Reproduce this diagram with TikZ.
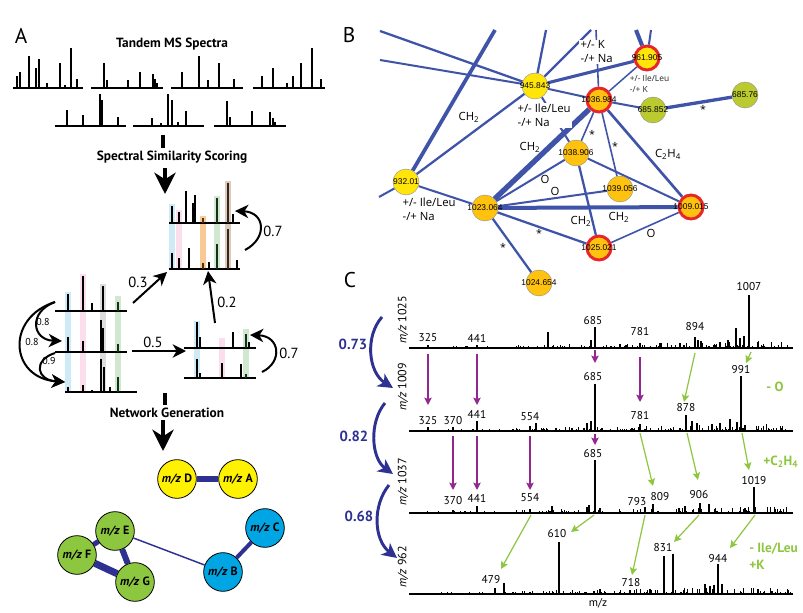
\documentclass[tikz,border=0pt]{standalone}
\usepackage{fontspec}
\setmainfont{PT Sans}
\newfontfamily\bfnt{Open Sans}
\newfontfamily\nfnt{Liberation Sans}
\usetikzlibrary{arrows.meta}
\pgfdeclarelayer{bg}
\pgfsetlayers{bg,main}
\definecolor{navy}{HTML}{2E3192}
\definecolor{bline}{HTML}{3F54A8}
\definecolor{nyellow}{HTML}{FFF200}
\definecolor{ngreen}{HTML}{8DC63F}
\definecolor{nblue}{HTML}{00A5E3}
\definecolor{byellow}{HTML}{FFE50A}
\definecolor{borange}{HTML}{FFC20E}
\definecolor{blime}{HTML}{BBCB2F}
\definecolor{bredc}{HTML}{E8262A}
\definecolor{cpurple}{HTML}{92278F}
\definecolor{cgreen}{HTML}{8DC63F}
\definecolor{pblue}{HTML}{CDEAF6}
\definecolor{ppink}{HTML}{FBDDEB}
\definecolor{pgreen}{HTML}{D2E7CF}
\definecolor{porange}{HTML}{F8CB96}
\definecolor{pgray}{HTML}{DDDDDD}
\definecolor{pbrown}{HTML}{D9CBBE}
\definecolor{dbrown}{HTML}{3A2418}
\definecolor{dgreen}{HTML}{0F3317}
\definecolor{dorange}{HTML}{5A3008}
\newcommand\specA[4]{%
  \draw[sbase] (#1,#3) -- (#2,#3);
  \foreach \px/\ph in {#4}{\draw[sbar] (\px,#3) -- (\px,#3-\ph);}}
\newcommand\specC[3]{%
  \pgfmathsetseed{#2}%
  \foreach \i in {1,...,380}{%
    \pgfmathsetmacro\nx{411+380*rnd}%
    \pgfmathsetmacro\nh{0.4+6*(rnd^3)*(0.15+(\nx-411)/380)}%
    \draw[nline] (\nx,#1) -- (\nx,#1-\nh);}%
  \foreach \px/\ph in {#3}{\draw[peak] (\px,#1) -- (\px,#1-\ph);}%
  \draw[cbase] (409,#1) -- (793,#1);}
\begin{document}
\begin{tikzpicture}[x=0.75pt,y=-0.75pt,
  sbase/.style={line width=2.2pt},
  sbar/.style={line width=2pt},
  band/.style={line width=4pt},
  bigarr/.style={line width=3pt,-{Stealth[length=16pt,width=16pt,inset=5pt]}},
  simarr/.style={line width=1.5pt,-{Stealth[length=10pt,width=10pt,inset=3pt]}},
  lbl/.style={font=\fontsize{11}{12}\selectfont,inner sep=0pt},
  slbl/.style={font=\fontsize{7.5}{8}\selectfont,inner sep=0pt},
  ttl/.style={font=\bfseries\fontsize{10}{12}\selectfont,inner sep=0pt},
  panel/.style={font=\fontsize{16}{18}\selectfont,inner sep=0pt},
  anode/.style={circle,draw=black,line width=0.6pt,minimum size=29pt,inner sep=0pt,font=\bfseries\fontsize{9}{10}\selectfont},
  bnode/.style={circle,draw=black!45,line width=0.3pt,minimum size=19.5pt,inner sep=0pt},
  redring/.style={draw=bredc,line width=2.2pt,minimum size=18pt},
  bnum/.style={font=\nfnt\fontsize{6.3}{7}\selectfont,inner sep=0pt},
  blab/.style={font=\bfnt\fontsize{8.5}{10.5}\selectfont,inner sep=1pt},
  bsmall/.style={font=\bfnt\fontsize{6.3}{8.2}\selectfont,inner sep=0.5pt,text=black!85},
  bstar/.style={font=\bfnt\fontsize{8}{8}\selectfont,inner sep=0pt},
  nline/.style={line width=0.35pt},
  peak/.style={line width=0.9pt},
  cbase/.style={line width=1.7pt},
  cnum/.style={font=\fontsize{8.5}{9}\selectfont,inner sep=0pt},
  cside/.style={font=\fontsize{9}{10}\selectfont,inner sep=0pt,rotate=90},
  cgl/.style={font=\bfseries\fontsize{10}{12}\selectfont,text=cgreen,inner sep=0pt},
  cnl/.style={font=\bfseries\fontsize{11}{12}\selectfont,text=navy,inner sep=0pt},
  parr/.style={cpurple,line width=1.1pt,-{Stealth[length=5.5pt,width=5.5pt,inset=1pt]}},
  garr/.style={cgreen,line width=0.9pt,-{Stealth[length=5.5pt,width=5.5pt,inset=1pt]}},
  carr/.style={navy,line width=2.2pt,-{Stealth[length=11pt,width=11pt,inset=3pt]}}]
\useasboundingbox (0,0) rectangle (803,613);
\begin{pgfonlayer}{bg}\fill[white] (0,0) rectangle (803,613);\end{pgfonlayer}

% ================= Panel A =================
\node[panel] (labA) at (21,36) {A};
\node[ttl] (tms) at (172,44) {Tandem MS Spectra};
\specA{13}{83}{88}{17/12,20/16,29/32,36/20,39/29,47/5,60/25,65/3,71/40,77/9}
\specA{91}{163}{88}{104/25,107/8,128/8,140/16,153/14,155/9,157/5}
\specA{171}{243}{88}{182/16,199/32,208/8,219/25,234/9}
\specA{253}{325}{88}{262/12,273/20,287/5,293/12,301/25,312/40,321/9}
\specA{55}{126}{126}{67/16,83/11,100/32,102/26,118/9}
\specA{133}{204}{126}{152/8,161/3,168/32,172/26,178/4,186/15}
\specA{214}{286}{126}{227/25,230/9,252/15,270/14,273/8,275/4}

\coordinate (r2a) at (163,135);
\coordinate (r2b) at (163,148);
\draw[line width=3pt] (r2a) -- (r2b);
\node[ttl] (sss) at (172,157) {Spectral Similarity Scoring};
\coordinate (a1s) at (165,168);
\coordinate (a1e) at (165,194);
\draw[bigarr] (a1s) -- (a1e);

% upper pair
\foreach \bx/\bt/\bc in {172/204/pblue,179/210/ppink,203/216/porange,217/196/pgreen,228/181/pbrown}
  {\draw[band,\bc] (\bx,\bt) -- (\bx,269);}
\specA{169}{240}{223}{172/17,179/11,186/32,193/20,195/28,203/5,233/9}
\specA{169}{240}{269}{172/16,179/11,189/21,209/7,237/9}
\draw[sbar,dorange] (203,223) -- (203,218);
\draw[sbar,dgreen] (217,223) -- (217,198);
\draw[sbar,dbrown] (228,223) -- (228,183);
\draw[sbar,dorange] (203,269) -- (203,263);
\draw[sbar,dgreen] (217,269) -- (217,244);
\draw[sbar,dbrown] (228,269) -- (228,229);

% left triple
\foreach \bx/\bt/\bc in {68/292/pblue,83/274/ppink,103/284/pgray,118/296/pgreen}
  {\draw[band,\bc] (\bx,\bt) -- (\bx,392);}
\specA{55}{127}{311}{68/17,83/35,92/8,103/25}
\specA{55}{127}{352}{68/15,83/11,101/32,103/24}
\specA{65}{137}{392}{68/5,83/7,92/2,101/33,104/25,110/5}
\draw[sbar,dgreen] (118,311) -- (118,302);
\draw[sbar,dgreen] (118,352) -- (118,344);
\draw[sbar,dgreen] (118,392) -- (118,377);

% lower-right pair
\foreach \bx/\bt/\bc in {197/321/pblue,222/338/ppink,246/329/pgreen}
  {\draw[band,\bc] (\bx,\bt) -- (\bx,378);}
\specA{184}{256}{348}{197/26,200/11,233/16,249/6}
\specA{184}{256}{378}{197/19,200/5,222/15,241/14}
\draw[sbar,dgreen] (246,348) -- (246,334);
\draw[sbar,dgreen] (246,378) -- (246,374);

% similarity arrows
\coordinate (p03s) at (133,303); \coordinate (p03e) at (167,272);
\draw[simarr] (p03s) -- (p03e);
\node[lbl] (l03) at (138,282) {0.3};
\coordinate (p05s) at (132,351); \coordinate (p05e) at (186,351);
\draw[simarr] (p05s) -- (p05e);
\node[lbl] (l05) at (153,342) {0.5};
\coordinate (p02s) at (215,323); \coordinate (p02e) at (208,271);
\draw[simarr] (p02s) -- (p02e);
\node[lbl] (l02) at (227,302) {0.2};
\coordinate (c7as) at (245,250); \coordinate (c7ae) at (235,211);
\draw[simarr] (c7as) .. controls (268,238) and (265,212) .. (c7ae);
\node[lbl] (l07a) at (273,231) {0.7};
\coordinate (c7bs) at (262,372); \coordinate (c7be) at (250,335);
\draw[simarr] (c7bs) .. controls (283,362) and (280,336) .. (c7be);
\node[lbl] (l07b) at (289,353) {0.7};
\coordinate (l1s) at (55,302); \coordinate (l1e) at (62,341);
\coordinate (l3s) at (55,353); \coordinate (l3e) at (65,382);
\draw[simarr] (l1s) .. controls (28,312) and (32,340) .. (l1e);
\draw[simarr] (l1s) .. controls (5,318) and (10,378) .. (l3e);
\draw[simarr] (l3s) .. controls (33,360) and (36,380) .. (l3e);
\node[slbl] (l08a) at (43,322) {0.8};
\node[slbl] (l08b) at (32,342) {0.8};
\node[slbl] (l09) at (49,361) {0.9};

\coordinate (r3a) at (165,393);
\coordinate (r3b) at (165,405);
\draw[line width=3pt] (r3a) -- (r3b);
\node[ttl] (ng) at (167,413) {Network Generation};
\coordinate (a2s) at (163,420);
\coordinate (a2e) at (163,451);
\draw[bigarr] (a2s) -- (a2e);

% network
\node[anode,fill=nyellow] (nD) at (177,479) {\textit{m/z} D};
\node[anode,fill=nyellow] (nA) at (238,479) {\textit{m/z} A};
\node[anode,fill=ngreen] (nE) at (115,531) {\textit{m/z} E};
\node[anode,fill=ngreen] (nF) at (77,555) {\textit{m/z} F};
\node[anode,fill=ngreen] (nG) at (135,582) {\textit{m/z} G};
\node[anode,fill=nblue] (nB) at (223,572) {\textit{m/z} B};
\node[anode,fill=nblue] (nC) at (265,528) {\textit{m/z} C};
\begin{pgfonlayer}{bg}
\draw[navy,line width=4.5pt] (nD) -- (nA);
\draw[navy,line width=3.8pt] (nE) -- (nF);
\draw[navy,line width=5.3pt] (nF) -- (nG);
\draw[navy,line width=4.5pt] (nE) -- (nG);
\draw[navy,line width=1.1pt] (nE) -- (nB);
\draw[navy,line width=3pt] (nB) -- (nC);
\end{pgfonlayer}

% ================= Panel B =================
\node[panel] (labB) at (349,35) {B};
\node[bnode,fill=byellow,label={[bnum]center:945.843}] (b945) at (535,86) {};
\node[bnode,redring,fill=byellow,label={[bnum]center:961.905}] (b961) at (647,58) {};
\node[bnode,redring,fill=borange,label={[bnum]center:1036.984}] (b1036) at (599,100) {};
\node[bnode,fill=blime,label={[bnum]center:685.852}] (b685a) at (653,110) {};
\node[bnode,fill=blime,label={[bnum]center:685.76}] (b685b) at (745,95) {};
\node[bnode,fill=borange,label={[bnum]center:1038.906}] (b1038) at (576,153) {};
\node[bnode,fill=borange,label={[bnum]center:1039.056}] (b1039) at (620,189) {};
\node[bnode,fill=byellow,label={[bnum]center:932.01}] (b932) at (406,182) {};
\node[bnode,fill=borange,label={[bnum]center:1023.064}] (b1023) at (485,208) {};
\node[bnode,redring,fill=borange,label={[bnum]center:1009.015}] (b1009) at (691,207) {};
\node[bnode,redring,fill=borange,label={[bnum]center:1025.021}] (b1025) at (599,248) {};
\node[bnode,fill=borange,label={[bnum]center:1024.654}] (b1024) at (539,283) {};
\coordinate (t1) at (380,31);
\coordinate (t2) at (380,60);
\coordinate (t3) at (546,30);
\coordinate (t4) at (591,30);
\coordinate (t5) at (495,30);
\coordinate (t6) at (379,197);
\coordinate (t7) at (596,30);
\coordinate (t8) at (636,30);
\coordinate (t9) at (651,30);
\begin{pgfonlayer}{bg}
\begin{scope}[bline]
\draw[line width=1.7pt] (t1) -- (b945);
\draw[line width=1.5pt] (t2) -- (b945);
\draw[line width=1.7pt] (t3) -- (b945);
\draw[line width=1.7pt] (t4) -- (b945);
\draw[line width=2.3pt] (b945) -- (b961);
\draw[line width=1.5pt] (b945) -- (b1036);
\draw[line width=1.7pt] (b945) -- (b932);
\draw[line width=1.5pt] (b945) -- (b1038);
\draw[line width=2.8pt] (t5) -- (b932);
\draw[line width=1.5pt] (t6) -- (b932);
\draw[line width=1.5pt] (b932) -- (b1023);
\draw[line width=1.2pt] (t7) -- (b1036);
\draw[line width=3pt] (t8) -- (b961);
\draw[line width=1.5pt] (t9) -- (b961);
\draw[line width=1.1pt] (b961) -- (b1036);
\draw[line width=1.5pt] (b1036) -- (b685a);
\draw[line width=2.5pt] (b685a) -- (b685b);
\draw[line width=4pt] (b1036) -- (b1023);
\draw[line width=1.2pt] (b1036) -- (b1038);
\draw[line width=1.2pt] (b1036) -- (b1039);
\draw[line width=2pt] (b1036) -- (b1009);
\draw[line width=1.5pt] (b1038) -- (b1023);
\draw[line width=1.7pt] (b1038) -- (b1025);
\draw[line width=1.5pt] (b1038) -- (b1009);
\draw[line width=1.5pt] (b1039) -- (b1023);
\draw[line width=3pt] (b1023) -- (b1009);
\draw[line width=1.7pt] (b1023) -- (b1025);
\draw[line width=1.7pt] (b1023) -- (b1024);
\draw[line width=1.2pt] (b1025) -- (b1009);
\end{scope}
\end{pgfonlayer}
\node[blab,fill=white,align=left,anchor=west] (ek) at (579,52) {+/- K\\-/+ Na};
\node[bsmall,align=left,anchor=west] (eil) at (629,83.5) {+/- Ile/Leu\\-/+ K};
\node[blab,fill=white,align=left,anchor=west] (ena1) at (516,115.5) {+/- Ile/Leu\\-/+ Na};
\node[blab,align=left,anchor=west] (ena2) at (401,209.5) {+/- Ile/Leu\\-/+ Na};
\node[blab] (ech1) at (469,117) {CH\textsubscript{2}};
\node[blab] (ech2) at (530,147) {CH\textsubscript{2}};
\node[blab] (ech3) at (581,221) {CH\textsubscript{2}};
\node[blab] (ech4) at (619,217) {CH\textsubscript{2}};
\node[blab] (ec2h4) at (668,154) {C\textsubscript{2}H\textsubscript{4}};
\node[blab] (eo1) at (545,179) {O};
\node[blab] (eo2) at (555,191) {O};
\node[blab] (eo3) at (651,233) {O};
\node[bstar] (es1) at (592,134) {*};
\node[bstar] (es2) at (615,146) {*};
\node[bstar] (es3) at (539,233) {*};
\node[bstar] (es4) at (503,247) {*};
\node[bstar] (es5) at (703,109) {*};

% ================= Panel C =================
\node[panel] (labC) at (350,280) {C};
\specC{348}{11}{749/53,595/21,591/8,548/16,736/20,740/10,744/12,695/11,698/8,701/7,640/5,428/3,477/3,758/6,728/8,720/6,680/5,660/5,620/4}
\specC{431}{23}{595/47,741/55,686/16,477/10,453/4,428/4,530/5,536/8,640/7,587/8,591/10,692/10,697/8,730/12,737/9,712/7,720/8,745/6}
\specC{513}{37}{595/53,754/26,700/10,709/9,653/9,645/6,552/7,477/7,530/4,453/3,587/6,589/8,685/7,745/5,600/5}
\specC{594}{51}{559/52,664/38,673/40,718/30,504/11,495/6,630/4,705/10,710/8,714/9,722/10,600/5,650/5}
\node[cside] (cy1) at (403,320) {\textit{m/z} 1025};
\node[cside] (cy2) at (403,387) {\textit{m/z} 1009};
\node[cside] (cy3) at (403,482) {\textit{m/z} 1037};
\node[cside] (cy4) at (403,567) {\textit{m/z} 962};
\foreach \px/\py/\t [count=\k] in {428/338/325,477/338/441,593/321/685,640/332/781,695/327/894,749/287/1007}
  {\node[cnum] (ca\k) at (\px,\py) {\t};}
\foreach \px/\py/\t [count=\k] in {428/421/325,453/421/370,477/414/441,530/417/554,593/377/685,640/416/781,686/408/878,741/370/991}
  {\node[cnum] (cb\k) at (\px,\py) {\t};}
\foreach \px/\py/\t [count=\k] in {453/501/370,477/498/441,530/498/554,593/454/685,637/502/793,660/497/809,699/495/906,754/481/1019}
  {\node[cnum] (cc\k) at (\px,\py) {\t};}
\foreach \px/\py/\t [count=\k] in {557/534/610,491/580/479,631/583/718,663/548/831,718/559/944}
  {\node[cnum] (cd\k) at (\px,\py) {\t};}
\node[cnum] (cmz) at (598,603) {m/z};
\node[cgl] (go) at (775,387) {- O};
\node[cgl,anchor=west] (gc2h4) at (763,462) {+C\textsubscript{2}H\textsubscript{4}};
\node[cgl,anchor=west,align=left,font=\bfseries\fontsize{10}{12.8}\selectfont] (gil) at (749,556.5) {- Ile/Leu\\+K};
% purple arrows
\draw[parr] (428,354) -- (428,405);
\draw[parr] (477,354) -- (477,405);
\draw[parr] (595,350) -- (595,363);
\draw[parr] (640,357) -- (640,402);
\draw[parr] (453,436) -- (453,490);
\draw[parr] (477,436) -- (477,490);
\draw[parr] (530,436) -- (530,490);
\draw[parr] (595,434) -- (595,445);
% green arrows
\draw[garr] (695,353) -- (684,402);
\draw[garr] (751,352) -- (746,363);
\draw[garr] (640,433) -- (653,486);
\draw[garr] (687,433) -- (698,480);
\draw[garr] (742,433) -- (749,470);
\draw[garr] (531,515) -- (501,569);
\draw[garr] (594,515) -- (571,532);
\draw[garr] (645,515) -- (632,575);
\draw[garr] (699,515) -- (674,542);
\draw[garr] (755,515) -- (730,548);
% navy curved arrows
\coordinate (k1s) at (382,317); \coordinate (k1e) at (393,388);
\coordinate (k2s) at (385,403); \coordinate (k2e) at (393,474);
\coordinate (k3s) at (389,485); \coordinate (k3e) at (397,558);
\draw[carr] (k1s) .. controls (365,336) and (368,372) .. (k1e);
\draw[carr] (k2s) .. controls (369,422) and (371,458) .. (k2e);
\draw[carr] (k3s) .. controls (372,506) and (374,540) .. (k3e);
\node[cnl] (s073) at (353,344) {0.73};
\node[cnl] (s082) at (354,436) {0.82};
\node[cnl] (s068) at (359,516) {0.68};
\end{tikzpicture}
\end{document}
